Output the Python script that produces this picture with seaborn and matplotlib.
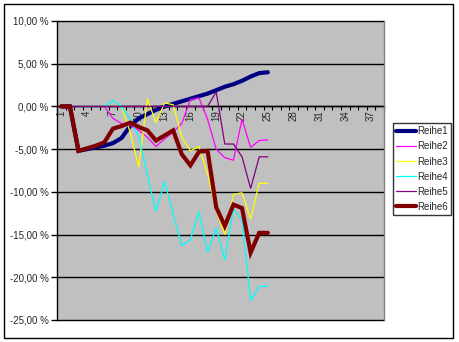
import matplotlib
matplotlib.use("Agg")
import matplotlib.pyplot as plt
from matplotlib.ticker import FuncFormatter, FixedLocator
from matplotlib.lines import Line2D
from matplotlib.patches import Rectangle
import seaborn as sns
import pandas as pd

# ---- data (percent) ----
points = list(range(1, 26))
reihe1 = [0, 0, -5.2, -5.0, -4.8, -4.6, -4.3, -3.7, -2.3, -1.4, -0.9, -0.4, 0.0, 0.3, 0.6,
          0.9, 1.2, 1.5, 1.9, 2.3, 2.6, 3.0, 3.5, 3.9, 4.0]
reihe2 = [0, 0, 0, 0, 0, 0, -1.4, -2.0, -2.2, -2.8, -3.6, -4.7, -3.8, -3.0, -2.0,
          0.8, 1.0, -1.5, -5.0, -6.0, -6.3, -1.5, -4.8, -4.0, -3.9]
reihe3 = [0, 0, 0, 0, 0, 0, 0, 0, -3.0, -7.1, 0.9, -1.9, 0.4, 0.2, -3.6,
          -5.2, -4.7, -7.9, -12.2, -15.0, -10.3, -10.1, -13.2, -9.0, -9.0]
reihe4 = [0, 0, 0, 0, 0, 0, 0.7, 0.0, -1.5, -3.5, -8.0, -12.3, -8.8, -12.6, -16.3,
          -15.6, -12.3, -17.1, -14.2, -18.0, -12.0, -13.3, -22.7, -21.1, -21.0]
reihe5 = [0, 0, 0, 0, 0, 0, 0, 0, 0, 0, 0, 0, 0, 0, 0,
          0, 0, 0, 1.7, -4.4, -4.4, -5.9, -9.6, -5.9, -5.9]
reihe6 = [0, 0, -5.2, -4.9, -4.6, -4.2, -2.6, -2.3, -1.9, -2.4, -2.8, -4.0, -3.4, -2.8, -5.6,
          -6.9, -5.3, -5.2, -11.8, -14.0, -11.5, -11.9, -17.1, -14.8, -14.8]
series_names = ["Reihe1", "Reihe2", "Reihe3", "Reihe4", "Reihe5", "Reihe6"]
category_count = 38
x_tick_labels = [str(v) for v in range(1, 38, 3)]
y_ticks = [10, 5, 0, -5, -10, -15, -20, -25]

colors = ["#000080", "#FF00FF", "#FFFF00", "#00FFFF", "#800080", "#800000"]
widths = [3.0, 0.9, 0.9, 0.9, 0.9, 3.0]

sns.set_style("white")
plt.rcParams["font.family"] = ["Liberation Sans", "DejaVu Sans"]
plt.rcParams["font.size"] = 7

fig = plt.figure(figsize=(4.59, 3.42), dpi=100)
fig.patch.set_facecolor("white")
ax = fig.add_axes([57 / 459, 1 - 320 / 342, (384 - 57) / 459, (320 - 21) / 342])
ax.set_facecolor("#C0C0C0")

data = [reihe1, reihe2, reihe3, reihe4, reihe5, reihe6]
for name, vals, c, w in zip(series_names, data, colors, widths):
    df = pd.DataFrame({"x": points, "y": vals})
    sns.lineplot(data=df, x="x", y="y", ax=ax, color=c, linewidth=w,
                 legend=False, zorder=3, solid_joinstyle="miter")

ax.set_xlim(0.5, category_count + 0.5)
ax.set_ylim(-25, 10)
ax.set_xlabel("")
ax.set_ylabel("")

# gridlines
for yv in y_ticks:
    ax.axhline(yv, color="black", linewidth=1.0, zorder=1, clip_on=False)

# y axis
ax.yaxis.set_major_locator(FixedLocator(y_ticks))
ax.yaxis.set_major_formatter(FuncFormatter(lambda v, p: f"{v:.2f}".replace(".", ",") + " %"))
ax.tick_params(axis="y", which="major", direction="out", length=4, width=1,
               color="black", labelsize=7, pad=2, left=True)

# x axis at zero
ax.spines["bottom"].set_position(("data", 0))
ax.spines["bottom"].set_color("black")
ax.spines["bottom"].set_linewidth(1.0)
ax.spines["bottom"].set_zorder(2)
ax.spines["top"].set_visible(False)
ax.spines["right"].set_color("#808080")
ax.spines["right"].set_linewidth(1.0)
ax.spines["left"].set_color("black")
ax.spines["left"].set_linewidth(1.0)

ax.xaxis.set_major_locator(FixedLocator(list(range(1, 38, 3))))
ax.set_xticklabels(x_tick_labels, rotation=90)
ax.xaxis.set_minor_locator(FixedLocator([k + 0.5 for k in range(0, category_count + 1)]))
ax.tick_params(axis="x", which="major", length=0, labelsize=7, pad=3, bottom=True)
ax.tick_params(axis="x", which="minor", direction="out", length=3, width=0.8,
               color="black", bottom=True)
for lbl in ax.get_xticklabels():
    lbl.set_verticalalignment("top")

# legend
handles = [Line2D([0], [0], color=c, linewidth=w) for c, w in zip(colors, widths)]
leg = fig.legend(handles, series_names, loc="upper left",
                 bbox_to_anchor=(393 / 459, 1 - 123 / 342),
                 frameon=True, fancybox=False, fontsize=7,
                 handlelength=2.0, handletextpad=0.1, labelspacing=0.52,
                 borderpad=0.35, borderaxespad=0)
leg.get_frame().set_edgecolor("black")
leg.get_frame().set_linewidth(1.0)
leg.get_frame().set_facecolor("white")

# outer chart border
fig.patches.append(Rectangle((4 / 459, 1 - 338 / 342), (453 - 4) / 459, (338 - 4) / 342,
                             transform=fig.transFigure, fill=False,
                             edgecolor="black", linewidth=1.0))

fig.savefig("out.png", dpi=100, facecolor="white")
